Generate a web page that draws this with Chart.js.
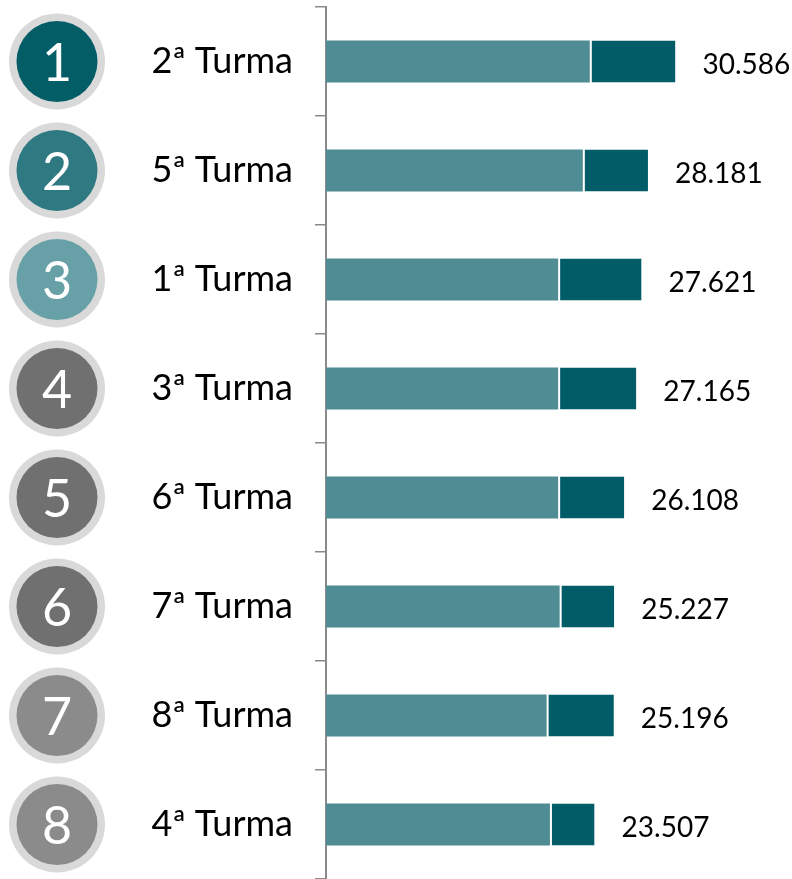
<!DOCTYPE html>
<html>
<head>
<meta charset="utf-8">
<script src="https://cdn.jsdelivr.net/npm/chart.js@4/dist/chart.umd.min.js"></script>
<style>
  html, body { margin: 0; padding: 0; background: #fff; }
  #wrap { width: 792px; height: 879px; }
</style>
</head>
<body>
<div id="wrap"><canvas id="chart1" width="792" height="879"></canvas></div>
<script>
const turmas = ['2ª Turma', '5ª Turma', '1ª Turma', '3ª Turma', '6ª Turma', '7ª Turma', '8ª Turma', '4ª Turma'];
const ranks = ['1', '2', '3', '4', '5', '6', '7', '8'];
const rank_colors = ['#035d66', '#2f7a82', '#67a1a7', '#707070', '#707070', '#707070', '#8b8b8b', '#8b8b8b'];

// two parts of each bar; the total is printed at the end
const parte1 = [23090, 22480, 20320, 20320, 20320, 20450, 19310, 19600];
const parte2 = [7496, 5701, 7301, 6845, 5788, 4777, 5886, 3907];

const FONT = 'Lato, "Open Sans", sans-serif';

function formatNumber(n) {
    // 30586 -> "30.586"
    return String(n).replace(/\B(?=(\d{3})+(?!\d))/g, '.');
}

// rank badges at the left of every row
const rankBadges = {
    id: 'rankBadges',
    afterDraw(chart) {
        const ctx = chart.ctx;
        const y = chart.scales.y;
        ctx.save();
        for (let i = 0; i < ranks.length; i++) {
            let cy = y.getPixelForValue(i);
            ctx.beginPath();
            ctx.arc(57, cy, 48, 0, Math.PI * 2);
            ctx.fillStyle = '#d9d9d9';
            ctx.fill();
            ctx.beginPath();
            ctx.arc(57, cy, 40.5, 0, Math.PI * 2);
            ctx.fillStyle = rank_colors[i];
            ctx.fill();
            ctx.fillStyle = '#fff';
            ctx.font = '52px ' + FONT;
            ctx.textAlign = 'center';
            ctx.textBaseline = 'alphabetic';
            ctx.fillText(ranks[i], 57, cy + 19);
        }
        ctx.restore();
    }
};

// totals written after the end of each bar
const totalLabels = {
    id: 'totalLabels',
    afterDatasetsDraw(chart) {
        const ctx = chart.ctx;
        const meta = chart.getDatasetMeta(1);
        ctx.save();
        ctx.fillStyle = '#000';
        ctx.font = '28px ' + FONT;
        ctx.textAlign = 'left';
        ctx.textBaseline = 'alphabetic';
        for (let i = 0; i < turmas.length; i++) {
            let bar = meta.data[i];
            let total = parte1[i] + parte2[i];
            ctx.fillText(formatNumber(total), bar.x + 27, bar.y + 12);
        }
        ctx.restore();
    }
};

new Chart(document.getElementById('chart1'), {
    type: 'bar',
    data: {
        labels: turmas,
        datasets: [{
            data: parte1,
            backgroundColor: '#4f8c94',
            borderWidth: 0
        }, {
            data: parte2,
            backgroundColor: '#005c66',
            borderColor: '#ffffff',
            borderWidth: { left: 2, top: 0, right: 0, bottom: 0 },
            borderSkipped: false
        }]
    },
    options: {
        indexAxis: 'y',
        responsive: false,
        animation: false,
        events: [],
        layout: { padding: { top: 7, right: 9, bottom: 0, left: 0 } },
        datasets: {
            bar: { categoryPercentage: 1, barPercentage: 0.385 }
        },
        plugins: {
            legend: { display: false },
            tooltip: { enabled: false }
        },
        scales: {
            x: {
                stacked: true,
                display: false,
                min: 0,
                max: 40000
            },
            y: {
                stacked: true,
                afterFit(scale) {
                    scale.width = 326;
                    scale.paddingTop = 0;
                    scale.paddingBottom = 0;
                },
                border: { color: '#8a8a8a', width: 2 },
                grid: {
                    drawOnChartArea: false,
                    drawTicks: true,
                    tickLength: 11,
                    color: '#8a8a8a',
                    lineWidth: 1.5
                },
                ticks: {
                    padding: 22,
                    color: '#000',
                    font: { family: FONT, size: 36 }
                }
            }
        }
    },
    plugins: [rankBadges, totalLabels]
});
</script>
</body>
</html>
